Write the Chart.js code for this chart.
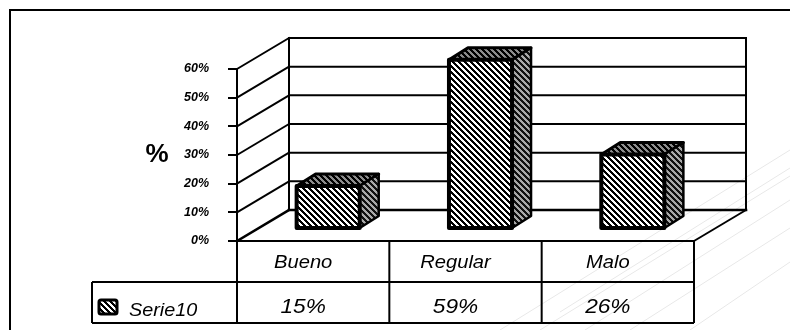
<!DOCTYPE html>
<html>
<head>
<meta charset="utf-8">
<script src="https://cdn.jsdelivr.net/npm/chart.js@4.4.1/dist/chart.umd.min.js"></script>
<style>
  html, body { margin: 0; padding: 0; background: #fff; }
  canvas { display: block; }
</style>
</head>
<body>
<canvas id="chart" width="790" height="330"></canvas>
<script>
// ---- data ----
const categories = ['Bueno', 'Regular', 'Malo'];
const seriesName = 'Serie10';
const seriesValues = [15, 59, 26];
const tickLabels = ['0%', '10%', '20%', '30%', '40%', '50%', '60%'];
const axisTitle = '%';

// ---- look ----
const FONT = '"Liberation Sans", Arial, Helvetica, sans-serif';
const WALL = { dx: 52, dy: -31 };        // depth of the side / back walls
const BAR_SHIFT = { dx: 15, dy: -12 };   // boxes stand a little behind the front plane
const BAR_DEPTH = { dx: 19, dy: -12 };   // depth of each box
const TABLE = { row1: 282, row2: 323, legendLeft: 92, textShift: -10 };

function hexToRgb(h) {
  return [parseInt(h.slice(1, 3), 16), parseInt(h.slice(3, 5), 16), parseInt(h.slice(5, 7), 16)];
}

// diagonal "\" stripes
function stripePattern(ctx, dark, light, size) {
  const c = document.createElement('canvas');
  c.width = size; c.height = size;
  const g = c.getContext('2d');
  const img = g.createImageData(size, size);
  const d = hexToRgb(dark), l = hexToRgb(light);
  for (let y = 0; y < size; y++) {
    for (let x = 0; x < size; x++) {
      const k = ((x - y) % size + size) % size;
      const col = k < size / 2 ? d : l;
      const i = (y * size + x) * 4;
      img.data[i] = col[0]; img.data[i + 1] = col[1]; img.data[i + 2] = col[2]; img.data[i + 3] = 255;
    }
  }
  g.putImageData(img, 0, 0);
  return ctx.createPattern(c, 'repeat');
}

function stretchedText(ctx, text, x, y, font, sx, align) {
  ctx.save();
  ctx.translate(x, y);
  ctx.scale(sx, 1);
  ctx.font = font;
  ctx.textAlign = align;
  ctx.textBaseline = 'alphabetic';
  ctx.fillStyle = '#000';
  ctx.fillText(text, 0, 0);
  ctx.restore();
}

function line(ctx, x1, y1, x2, y2) {
  ctx.beginPath();
  ctx.moveTo(x1, y1);
  ctx.lineTo(x2, y2);
  ctx.stroke();
}

// page background, frame and faint decorative strokes
const backgroundPlugin = {
  id: 'background',
  beforeDraw(chart) {
    const ctx = chart.ctx;
    ctx.save();
    ctx.fillStyle = '#fff';
    ctx.fillRect(0, 0, chart.width, chart.height);

    ctx.strokeStyle = '#e8e8e8';
    ctx.lineWidth = 1;
    [[500, 330, 790, 150], [540, 330, 790, 176], [585, 330, 790, 200],
     [630, 330, 790, 228], [690, 330, 790, 262], [560, 312, 790, 168]].forEach(s => line(ctx, s[0], s[1], s[2], s[3]));

    ctx.strokeStyle = '#000';
    ctx.lineWidth = 2;
    ctx.beginPath();
    ctx.moveTo(10, 330);
    ctx.lineTo(10, 10);
    ctx.lineTo(790, 10);
    ctx.stroke();
    ctx.restore();
  }
};

// side wall, back wall and floor edge
const wallsPlugin = {
  id: 'walls',
  beforeDatasetsDraw(chart) {
    const ctx = chart.ctx;
    const a = chart.chartArea;
    const y = chart.scales.y;
    ctx.save();
    ctx.strokeStyle = '#000';
    ctx.lineCap = 'square';
    y.ticks.forEach(t => {
      const yf = y.getPixelForValue(t.value);
      const yb = yf + WALL.dy;
      ctx.lineWidth = t.value === 0 ? 2.5 : 2;
      line(ctx, a.left, yf, a.left + WALL.dx, yb);
      line(ctx, a.left + WALL.dx, yb, a.right + WALL.dx, yb);
    });
    ctx.lineWidth = 2;
    line(ctx, a.left + WALL.dx, a.top + WALL.dy, a.left + WALL.dx, a.bottom + WALL.dy);
    line(ctx, a.right + WALL.dx, a.top + WALL.dy, a.right + WALL.dx, a.bottom + WALL.dy);
    line(ctx, a.right, a.bottom, a.right + WALL.dx, a.bottom + WALL.dy);
    ctx.restore();
  }
};

// hatched 3D boxes built on the bar elements
const boxesPlugin = {
  id: 'boxes',
  afterDatasetsDraw(chart) {
    const ctx = chart.ctx;
    if (!chart.$patterns) {
      chart.$patterns = {
        front: stripePattern(ctx, '#000000', '#ffffff', 6),
        top: stripePattern(ctx, '#000000', '#8c8c8c', 6),
        side: stripePattern(ctx, '#111111', '#a8a8a8', 6)
      };
    }
    const p = chart.$patterns;
    const meta = chart.getDatasetMeta(0);
    ctx.save();
    ctx.lineJoin = 'round';
    ctx.strokeStyle = '#000';
    meta.data.forEach(el => {
      const props = el.getProps(['x', 'y', 'base', 'width'], true);
      const x0 = props.x - props.width / 2 + BAR_SHIFT.dx;
      const x1 = x0 + props.width;
      const top = props.y + BAR_SHIFT.dy;
      const bottom = props.base + BAR_SHIFT.dy;
      const ddx = BAR_DEPTH.dx, ddy = BAR_DEPTH.dy;

      // top face
      ctx.beginPath();
      ctx.moveTo(x0, top);
      ctx.lineTo(x0 + ddx, top + ddy);
      ctx.lineTo(x1 + ddx, top + ddy);
      ctx.lineTo(x1, top);
      ctx.closePath();
      ctx.fillStyle = p.top;
      ctx.fill();
      ctx.lineWidth = 3;
      ctx.stroke();

      // side face
      ctx.beginPath();
      ctx.moveTo(x1, top);
      ctx.lineTo(x1 + ddx, top + ddy);
      ctx.lineTo(x1 + ddx, bottom + ddy);
      ctx.lineTo(x1, bottom);
      ctx.closePath();
      ctx.fillStyle = p.side;
      ctx.fill();
      ctx.lineWidth = 2.5;
      ctx.stroke();

      // front face
      ctx.beginPath();
      ctx.rect(x0, top, x1 - x0, bottom - top);
      ctx.fillStyle = p.front;
      ctx.fill();
      ctx.lineWidth = 4;
      ctx.stroke();
    });
    ctx.restore();
  }
};

// axis title and data table under the floor
const tablePlugin = {
  id: 'dataTable',
  afterDraw(chart) {
    const ctx = chart.ctx;
    const a = chart.chartArea;
    const xs = chart.scales.x;
    const ys = chart.scales.y;
    const centers = categories.map((_, i) => xs.getPixelForValue(i));
    const edges = [a.left];
    for (let i = 0; i < centers.length - 1; i++) edges.push((centers[i] + centers[i + 1]) / 2);
    edges.push(a.right);

    ctx.save();
    // axis title
    ctx.font = 'bold 26px ' + FONT;
    ctx.fillStyle = '#000';
    ctx.textAlign = 'center';
    ctx.textBaseline = 'middle';
    ctx.fillText(axisTitle, 157, ys.getPixelForValue(30));

    // grid of the table
    ctx.strokeStyle = '#000';
    ctx.lineWidth = 2;
    line(ctx, a.left, a.bottom, a.right, a.bottom);
    line(ctx, TABLE.legendLeft, TABLE.row1, a.right, TABLE.row1);
    line(ctx, TABLE.legendLeft, TABLE.row2, a.right, TABLE.row2);
    line(ctx, TABLE.legendLeft, TABLE.row1, TABLE.legendLeft, TABLE.row2);
    edges.forEach(x => line(ctx, x, a.bottom, x, TABLE.row2));

    // category row and value row
    categories.forEach((c, i) => {
      const cx = centers[i] + TABLE.textShift;
      stretchedText(ctx, c, cx, 268, 'italic 18px ' + FONT, 1.12, 'center');
      stretchedText(ctx, seriesValues[i] + '%', cx, 313, 'italic 21px ' + FONT, 1.08, 'center');
    });

    // legend key
    const p = chart.$patterns;
    ctx.beginPath();
    ctx.roundRect(99, 300, 18, 14, 2);
    ctx.fillStyle = p ? p.front : '#888';
    ctx.fill();
    ctx.lineWidth = 3;
    ctx.stroke();
    stretchedText(ctx, seriesName, 129, 316, 'italic 18px ' + FONT, 1.1, 'left');
    ctx.restore();
  }
};

new Chart(document.getElementById('chart'), {
  type: 'bar',
  data: {
    labels: categories,
    datasets: [{
      label: seriesName,
      data: seriesValues,
      backgroundColor: 'rgba(0,0,0,0)',
      borderWidth: 0,
      categoryPercentage: 1,
      barPercentage: 0.414
    }]
  },
  options: {
    responsive: false,
    animation: false,
    events: [],
    layout: { padding: { left: 0, top: 69, right: 96, bottom: 89 } },
    plugins: {
      legend: { display: false },
      tooltip: { enabled: false },
      title: { display: false }
    },
    scales: {
      x: { display: false, offset: true },
      y: {
        min: 0,
        max: 60,
        afterFit(scale) { scale.width = 237; },
        ticks: {
          stepSize: 10,
          padding: 19,
          color: '#000',
          font: { family: FONT, size: 12.5, style: 'italic', weight: 'bold' },
          callback: (v, i) => tickLabels[i]
        },
        grid: {
          drawOnChartArea: false,
          drawTicks: true,
          tickLength: 9,
          color: '#000',
          lineWidth: 2
        },
        border: { display: true, color: '#000', width: 2 }
      }
    }
  },
  plugins: [backgroundPlugin, wallsPlugin, boxesPlugin, tablePlugin]
});
</script>
</body>
</html>
